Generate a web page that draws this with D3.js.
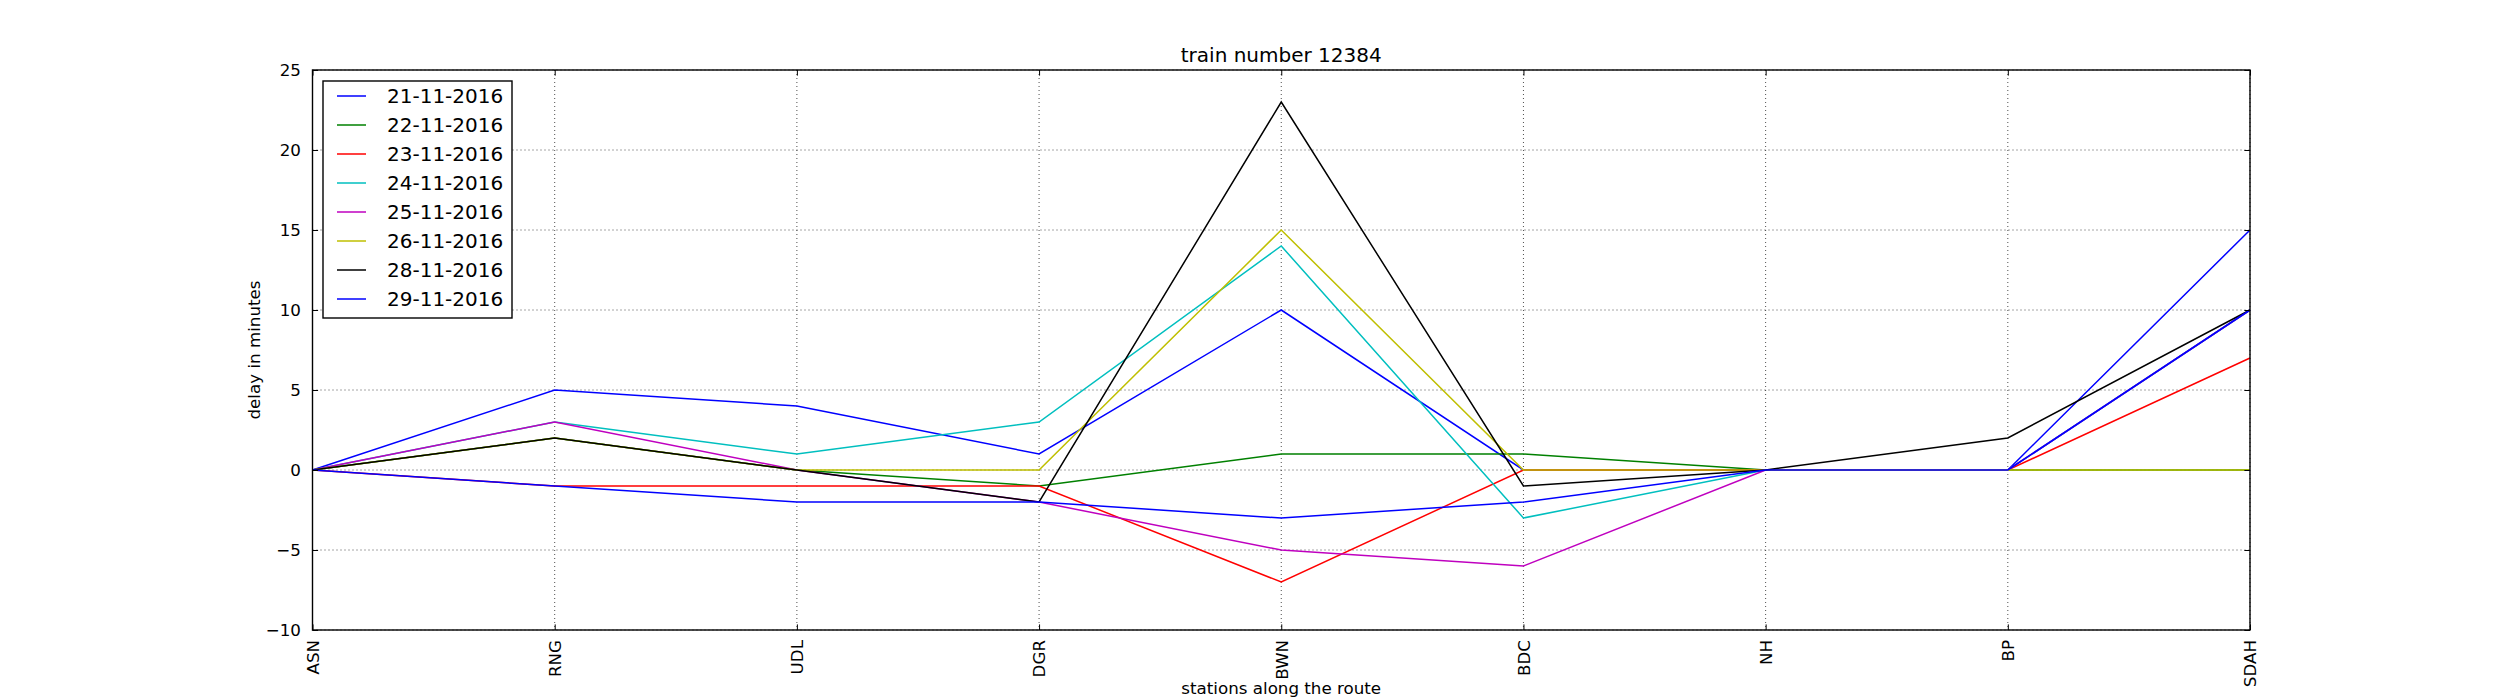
<html>
<head>
<meta charset="utf-8">
<title>train number 12384</title>
<script src="https://d3js.org/d3.v7.min.js"></script>
<style>
  body { margin: 0; background: #fff; }
  text { font-family: "DejaVu Sans", sans-serif; }
</style>
</head>
<body>
<script>
// stations on the x axis
var stations = ["ASN", "RNG", "UDL", "DGR", "BWN", "BDC", "NH", "BP", "SDAH"];
// dates shown in the legend
var dates = ["21-11-2016", "22-11-2016", "23-11-2016", "24-11-2016",
             "25-11-2016", "26-11-2016", "28-11-2016", "29-11-2016"];
// delay per station, one array per date
var d21 = [0, 5, 4, 1, 10, 0, 0, 0, 15];
var d22 = [0, 2, 0, -1, 1, 1, 0, 0, 0];
var d23 = [0, -1, -1, -1, -7, 0, 0, 0, 7];
var d24 = [0, 3, 1, 3, 14, -3, 0, 0, 10];
var d25 = [0, 3, 0, -2, -5, -6, 0, 0, 10];
var d26 = [0, 2, 0, 0, 15, 0, 0, 0, 0];
var d28 = [0, 2, 0, -2, 23, -1, 0, 2, 10];
var d29 = [0, -1, -2, -2, -3, -2, 0, 0, 10];
var yTicks = [-10, -5, 0, 5, 10, 15, 20, 25];

var series = [d21, d22, d23, d24, d25, d26, d28, d29];
var colors = ["#0000ff", "#008000", "#ff0000", "#00bfbf", "#bf00bf", "#bfbf00", "#000000", "#0000ff"];

var W = 2500, H = 700;
var margin = {top: 70, right: 250, bottom: 70, left: 312.5};
var width = W - margin.left - margin.right,
    height = H - margin.top - margin.bottom;

var svg = d3.select("body").append("svg")
    .attr("width", W).attr("height", H);

var vis = svg.append("g")
    .attr("transform", "translate(" + margin.left + "," + margin.top + ")");

var x = d3.scalePoint().domain(stations).range([0, width]);
var y = d3.scaleLinear().domain([-10, 25]).range([height, 0]);

// grid (dotted)
vis.append("g").selectAll("line").data(stations).enter().append("line")
    .attr("x1", function(d) { return x(d); }).attr("x2", function(d) { return x(d); })
    .attr("y1", 0).attr("y2", height)
    .attr("stroke", "#000").attr("stroke-width", 0.7).attr("stroke-dasharray", "1,3");
vis.append("g").selectAll("line").data(yTicks).enter().append("line")
    .attr("x1", 0).attr("x2", width)
    .attr("y1", function(d) { return y(d); }).attr("y2", function(d) { return y(d); })
    .attr("stroke", "#000").attr("stroke-width", 0.7).attr("stroke-dasharray", "1,3");

// lines
var line = d3.line()
    .x(function(d, i) { return x(stations[i]); })
    .y(function(d) { return y(d); });

series.forEach(function(s, i) {
    vis.append("path").datum(s)
        .attr("d", line)
        .attr("fill", "none")
        .attr("stroke", colors[i])
        .attr("stroke-width", 1.5);
});

// axes, ticks inward on all sides
var tl = 5.6;
var yAxis = d3.axisLeft(y).tickValues(yTicks).tickSizeInner(-tl).tickSizeOuter(0).tickPadding(tl + 6);
var yAxisR = d3.axisRight(y).tickValues(yTicks).tickSizeInner(-tl).tickSizeOuter(0).tickFormat("");
var xAxis = d3.axisBottom(x).tickSizeInner(-tl).tickSizeOuter(0).tickPadding(tl + 8);
var xAxisT = d3.axisTop(x).tickSizeInner(-tl).tickSizeOuter(0).tickFormat("");

var gy = vis.append("g").attr("class", "yaxis").call(yAxis);
vis.append("g").attr("transform", "translate(" + width + ",0)").call(yAxisR);
var gx = vis.append("g").attr("class", "xaxis")
    .attr("transform", "translate(0," + height + ")").call(xAxis);
vis.append("g").call(xAxisT);

vis.selectAll(".domain").remove();
vis.selectAll(".tick line").attr("stroke", "#000").attr("stroke-width", 1);
vis.selectAll(".tick text").attr("font-size", 16.7).attr("fill", "#000")
    .attr("font-family", "DejaVu Sans");

gx.selectAll("text")
    .attr("text-anchor", "end")
    .attr("transform", "rotate(-90)")
    .attr("x", -10).attr("y", 0).attr("dy", "0.35em");

// frame
vis.append("rect").attr("width", width).attr("height", height)
    .attr("fill", "none").attr("stroke", "#000").attr("stroke-width", 1.4);

// title and labels
svg.append("text").attr("x", margin.left + width / 2).attr("y", 62)
    .attr("text-anchor", "middle").attr("font-size", 20).text("train number 12384");
svg.append("text")
    .attr("transform", "translate(260," + (margin.top + height / 2) + ")rotate(-90)")
    .attr("text-anchor", "middle").attr("font-size", 16.7).text("delay in minutes");
svg.append("text").attr("x", margin.left + width / 2).attr("y", 694)
    .attr("text-anchor", "middle").attr("font-size", 16.7).text("stations along the route");

// legend
var legend = vis.append("g").attr("transform", "translate(10.5,11)");
legend.append("rect").attr("width", 189).attr("height", 237)
    .attr("fill", "#fff").attr("stroke", "#000").attr("stroke-width", 1.4);
var rows = legend.selectAll("g.row").data(dates).enter().append("g")
    .attr("transform", function(d, i) { return "translate(0," + (15 + i * 29) + ")"; });
rows.append("line").attr("x1", 14).attr("x2", 43).attr("y1", 0).attr("y2", 0)
    .attr("stroke", function(d, i) { return colors[i]; }).attr("stroke-width", 1.5);
rows.append("text").attr("x", 64).attr("y", 0).attr("dy", "0.35em")
    .attr("font-size", 20).text(function(d) { return d; });
</script>
</body>
</html>
